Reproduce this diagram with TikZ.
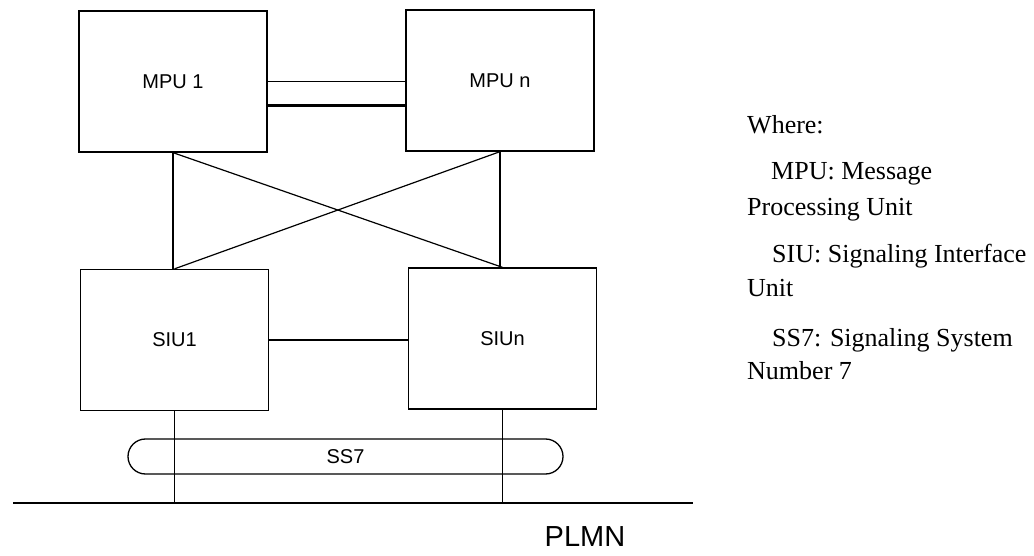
\documentclass[tikz,border=0pt]{standalone}
\usepackage{fontspec}
\setmainfont{Liberation Serif}
\setsansfont{Liberation Sans}

\begin{document}
\begin{tikzpicture}[x=1pt, y=-1pt,
  unit/.style={draw, line width=1.3pt, minimum width=188pt, minimum height=141pt,
               inner sep=0pt, font=\sffamily\fontsize{20}{23}\selectfont},
  bus/.style={draw, line width=1.3pt, rounded corners=17.5pt,
              minimum width=435pt, minimum height=35pt, inner sep=0pt,
              font=\sffamily\fontsize{20}{23}\selectfont},
  link/.style={line width=1.2pt},
  heavy/.style={line width=2.4pt},
  note/.style={anchor=base west, inner sep=0pt, font=\fontsize{26}{30}\selectfont}
]
  \useasboundingbox (0,0) rectangle (1034,556);

  % Processing units (top row)
  \node[unit] at (173,81.5)   (mpu1) {MPU 1};
  \node[unit] at (500,80.5)   (mpun) {MPU n};

  % Interface units (bottom row)
  \node[unit] at (174.5,340)  (siu1) {SIU1};
  \node[unit] at (502.5,338.5) (siun) {SIUn};

  % SS7 bus and PLMN line
  \node[bus] at (345.5,456.5) (ss7) {SS7};
  \coordinate (plmnL) at (13,503);
  \coordinate (plmnR) at (693,503);
  \node[anchor=base, inner sep=0pt, font=\sffamily\fontsize{29}{33}\selectfont]
    at (585,546) (plmn) {PLMN};

  % MPU links
  \draw[link]  (mpu1.east) -- (mpu1.east -| mpun.west);
  \draw[heavy] ([yshift=-24pt]mpu1.east) -- ([yshift=-24pt]mpu1.east -| mpun.west);

  % SIU link
  \draw[heavy] (siu1.east) -- (siu1.east -| siun.west);

  % MPU to SIU, straight and crossed
  \draw[link] (mpu1.south) -- (mpu1.south |- siu1.north);
  \draw[link] (mpun.south) -- (mpun.south |- siun.north);
  \draw[link] (mpu1.south) -- (siun.north);
  \draw[link] (mpun.south) -- (siu1.north);

  % Drops to the network
  \draw[link] (plmnL) -- (plmnR);
  \draw[link] (siu1.south) -- (siu1.south |- plmnL);
  \draw[link] (siun.south) -- (siun.south |- plmnL);

  % Legend
  \node[note] at (747,134) (where) {Where:};
  \node[note] at (771,180) (mpuA)  {MPU: Message};
  \node[note] at (747,216) (mpuB)  {Processing Unit};
  \node[note] at (772,263) (siuA)  {SIU: Signaling Interface};
  \node[note] at (747,297) (siuB)  {Unit};
  \node[note] at (772,346) (ssA)   {SS7: Signaling System};
  \node[note] at (747,379) (ssB)   {Number 7};

\end{tikzpicture}
\end{document}
